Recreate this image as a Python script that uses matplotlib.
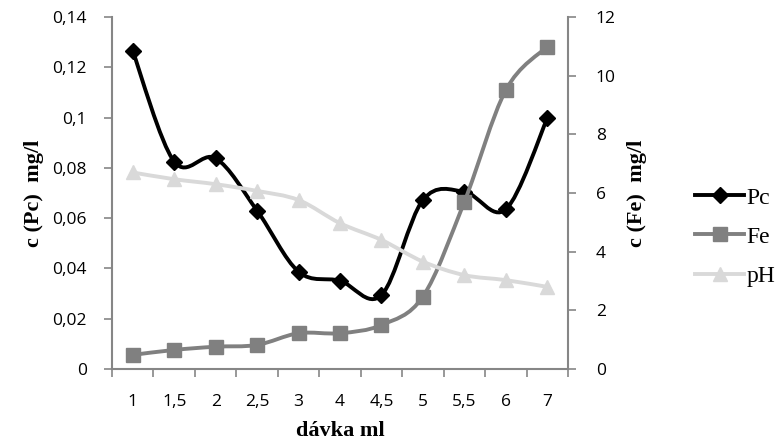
import matplotlib
matplotlib.use("Agg")
import matplotlib.pyplot as plt
from matplotlib.path import Path
from matplotlib.patches import PathPatch
from matplotlib.ticker import FixedLocator, FuncFormatter
from matplotlib.lines import Line2D

# =========================
# DATA
# =========================
davka = ["1", "1,5", "2", "2,5", "3", "4", "4,5", "5", "5,5", "6", "7"]
pc = [0.1265, 0.0825, 0.0838, 0.0630, 0.0387, 0.0351, 0.0294, 0.0672, 0.0705, 0.0635, 0.0997]
fe = [0.48, 0.65, 0.76, 0.82, 1.22, 1.22, 1.50, 2.47, 5.70, 9.51, 10.99]
ph = [6.70, 6.47, 6.30, 6.07, 5.76, 4.97, 4.40, 3.66, 3.20, 3.03, 2.80]

BLACK = "#000000"
GRAY = "#808080"
LIGHT = "#D9D9D9"
AXIS = "#868686"


def smooth_path(xs, ys, t=1 / 6):
    # Excel-like smoothed line as cubic bezier segments
    n = len(xs)
    verts = [(xs[0], ys[0])]
    codes = [Path.MOVETO]
    for i in range(n - 1):
        i0 = max(i - 1, 0)
        i3 = min(i + 2, n - 1)
        c1 = (xs[i] + (xs[i + 1] - xs[i0]) * t, ys[i] + (ys[i + 1] - ys[i0]) * t)
        c2 = (xs[i + 1] - (xs[i3] - xs[i]) * t, ys[i + 1] - (ys[i3] - ys[i]) * t)
        verts += [c1, c2, (xs[i + 1], ys[i + 1])]
        codes += [Path.CURVE4] * 3
    return Path(verts, codes)


x = list(range(len(davka)))

fig = plt.figure(figsize=(7.8, 4.48), dpi=100)
ax = fig.add_axes([112 / 780, 1 - 369 / 448, (568 - 112) / 780, (369 - 17) / 448])
ax2 = ax.twinx()

# Pc (left axis)
ax.add_patch(PathPatch(smooth_path(x, pc), fill=False, edgecolor=BLACK, lw=2.8, zorder=3))
ax.plot(x, pc, ls="none", marker="D", ms=8.5, color=BLACK, zorder=4)

# Fe, pH (right axis)
ax2.add_patch(PathPatch(smooth_path(x, fe), fill=False, edgecolor=GRAY, lw=2.8, zorder=2))
ax2.plot(x, fe, ls="none", marker="s", ms=10, color=GRAY, zorder=3)
ax2.add_patch(PathPatch(smooth_path(x, ph), fill=False, edgecolor=LIGHT, lw=2.8, zorder=2))
ax2.plot(x, ph, ls="none", marker="^", ms=10, color=LIGHT, zorder=3)

ax.set_xlim(-0.5, len(davka) - 0.5)
ax.set_ylim(0, 0.14)
ax2.set_ylim(0, 12)

TICK_FAMILY = "Open Sans"
TICK_SIZE = 12.5

ax.xaxis.set_major_locator(FixedLocator(x))
ax.set_xticklabels(davka, fontdict={"family": TICK_FAMILY, "size": TICK_SIZE})
ax.xaxis.set_minor_locator(FixedLocator([i - 0.5 for i in range(len(davka) + 1)]))
ax.tick_params(axis="x", which="major", length=0, pad=18)
ax.tick_params(axis="x", which="minor", length=6, color=AXIS, width=1.2)

ax.set_yticks([0, 0.02, 0.04, 0.06, 0.08, 0.1, 0.12, 0.14])
ax.yaxis.set_major_formatter(FuncFormatter(lambda v, p: f"{v:g}".replace(".", ",")))
ax.tick_params(axis="y", length=6, color=AXIS, width=1.2, pad=12)
for lab in ax.get_yticklabels():
    lab.set_fontfamily(TICK_FAMILY)
    lab.set_fontsize(TICK_SIZE)

ax2.set_yticks([0, 2, 4, 6, 8, 10, 12])
ax2.tick_params(axis="y", length=6, color=AXIS, width=1.2, pad=14)
for lab in ax2.get_yticklabels():
    lab.set_fontfamily(TICK_FAMILY)
    lab.set_fontsize(TICK_SIZE)

for a in (ax, ax2):
    a.spines["top"].set_visible(False)
    for s in ("left", "right", "bottom"):
        a.spines[s].set_color(AXIS)
        a.spines[s].set_linewidth(1.5)
ax.spines["right"].set_visible(False)
ax2.spines["left"].set_visible(False)
ax2.spines["bottom"].set_visible(False)

label_font = {"family": "Liberation Serif", "weight": "bold", "size": 16}
ax.set_xlabel("dávka ml", fontdict=label_font, labelpad=8)
ax.set_ylabel("c (Pc)  mg/l", fontdict=label_font, labelpad=6)
ax2.set_ylabel("c (Fe)  mg/l", fontdict=label_font, labelpad=8)

handles = [
    Line2D([], [], color=BLACK, lw=2.8, marker="D", ms=8.5),
    Line2D([], [], color=GRAY, lw=2.8, marker="s", ms=10),
    Line2D([], [], color=LIGHT, lw=2.8, marker="^", ms=10),
]
fig.legend(handles, ["Pc", "Fe", "pH"], loc="center left",
           bbox_to_anchor=(683 / 780, 1 - 237 / 448), frameon=False,
           prop={"family": "Liberation Serif", "size": 17},
           handlelength=2.1, handletextpad=0.1, labelspacing=0.75, borderpad=0)

plt.savefig("out.png", dpi=100)
plt.close()
